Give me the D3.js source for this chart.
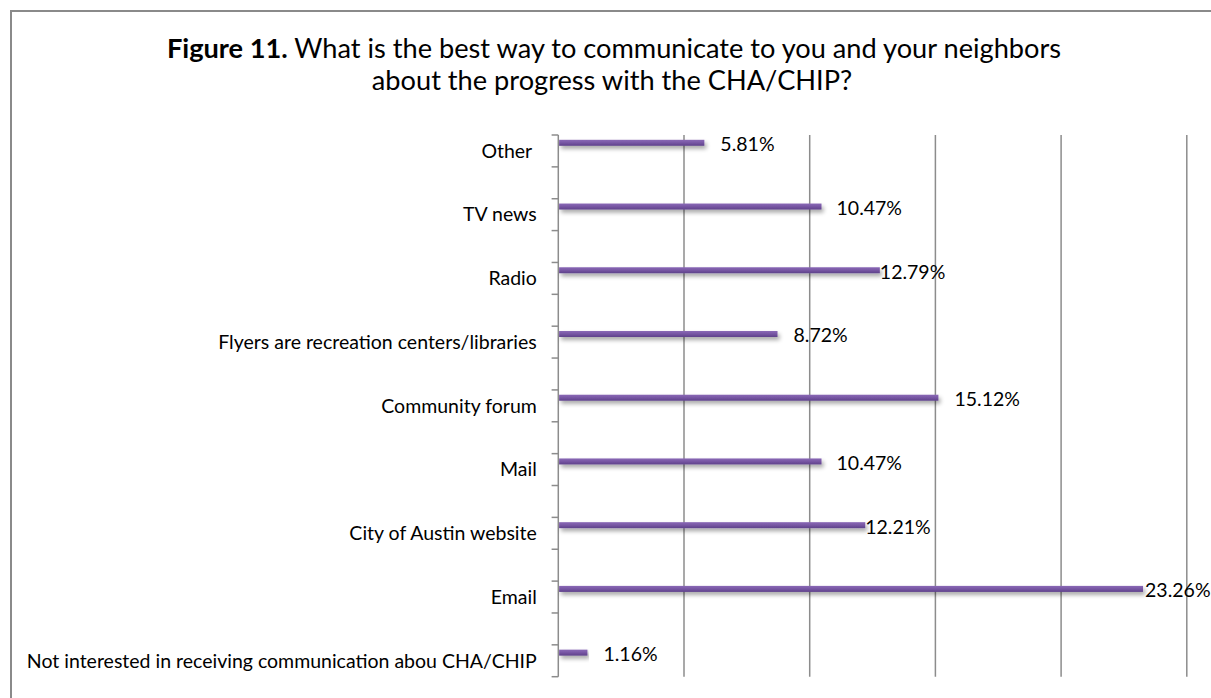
<!DOCTYPE html>
<html>
<head>
<meta charset="utf-8">
<script src="https://cdn.jsdelivr.net/npm/d3@7"></script>
<style>
  html, body { margin: 0; padding: 0; background: #fff; }
  svg { display: block; }
  text { font-family: Lato, "Open Sans", sans-serif; fill: #000; white-space: pre; }
</style>
</head>
<body>
<svg id="chart" width="1211" height="698"></svg>
<script>
// Survey responses, top to bottom
const categories = [
  "Other ",
  "TV news",
  "Radio",
  "Flyers are recreation centers/libraries",
  "Community forum",
  "Mail",
  "City of Austin website",
  "Email",
  "Not interested in receiving communication abou CHA/CHIP"
];
const percentages = [5.81, 10.47, 12.79, 8.72, 15.12, 10.47, 12.21, 23.26, 1.16];
const xTicks = [0, 5, 10, 15, 20, 25];

// Horizontal nudge of each value label past its bar end
const labelGap = [16, 15, 0, 16, 16, 15, 0, 2, 16];

const svg = d3.select("#chart");
const W = 1211, H = 698;

// Outer frame (runs off the right and bottom edges)
svg.append("rect")
  .attr("x", 11).attr("y", 11)
  .attr("width", W + 20).attr("height", H + 20)
  .attr("fill", "none").attr("stroke", "#8a8a8a").attr("stroke-width", 2);

// Title
const titleSize = "27.2px";
const title = svg.append("text")
  .attr("x", 614).attr("y", 58)
  .attr("text-anchor", "middle")
  .style("font-size", titleSize);
title.append("tspan").attr("font-weight", "bold").text("Figure 11.");
title.append("tspan").text(" What is the best way to communicate to you and your neighbors");
svg.append("text")
  .attr("x", 612).attr("y", 90)
  .attr("text-anchor", "middle")
  .style("font-size", titleSize)
  .text("about the progress with the CHA/CHIP?");

// Plot area
const plotL = 558.3, plotR = 1186.8, plotT = 135, plotB = 676.7;

const x = d3.scaleLinear().domain([0, 25]).range([plotL, plotR]);

// Each category is followed by an empty slot, giving 17 slots in all
const slots = d3.range(categories.length * 2 - 1);
const y = d3.scaleBand().domain(slots).range([plotT, plotB]).padding(0);
const slotOf = i => i * 2;

const defs = svg.append("defs");
const grad = defs.append("linearGradient")
  .attr("id", "barFill").attr("x1", 0).attr("y1", 0).attr("x2", 0).attr("y2", 1);
grad.append("stop").attr("offset", "0%").attr("stop-color", "#8a69b6");
grad.append("stop").attr("offset", "50%").attr("stop-color", "#7756a3");
grad.append("stop").attr("offset", "100%").attr("stop-color", "#5e418a");

const shadow = defs.append("filter").attr("id", "barShadow")
  .attr("x", "-5%").attr("y", "-100%").attr("width", "110%").attr("height", "400%");
shadow.append("feGaussianBlur").attr("in", "SourceAlpha").attr("stdDeviation", 2.2).attr("result", "blur");
shadow.append("feOffset").attr("in", "blur").attr("dx", 2).attr("dy", 3).attr("result", "off");
shadow.append("feComponentTransfer").attr("in", "off").attr("result", "soft")
  .append("feFuncA").attr("type", "linear").attr("slope", 0.35);
const merge = shadow.append("feMerge");
merge.append("feMergeNode").attr("in", "soft");
merge.append("feMergeNode").attr("in", "SourceGraphic");

// Vertical gridlines
svg.append("g")
  .selectAll("line")
  .data(xTicks.slice(1))
  .join("line")
  .attr("x1", d => x(d)).attr("x2", d => x(d))
  .attr("y1", plotT).attr("y2", plotB)
  .attr("stroke", "#8c8c8c").attr("stroke-width", 1.5);

// Category axis with tick marks at every slot boundary
const axisG = svg.append("g");
axisG.append("line")
  .attr("x1", plotL).attr("x2", plotL).attr("y1", plotT).attr("y2", plotB)
  .attr("stroke", "#8c8c8c").attr("stroke-width", 1.5);
const boundaries = slots.map(s => y(s)).concat([plotB]);
axisG.selectAll("line.tick")
  .data(boundaries)
  .join("line")
  .attr("class", "tick")
  .attr("x1", plotL - 6.7).attr("x2", plotL)
  .attr("y1", d => d).attr("y2", d => d)
  .attr("stroke", "#8c8c8c").attr("stroke-width", 1.5);

axisG.selectAll("text.cat")
  .data(categories)
  .join("text")
  .attr("class", "cat")
  .attr("x", plotL - 21.5)
  .attr("y", (d, i) => y(slotOf(i)) + y.bandwidth() / 2)
  .attr("dy", "0.35em")
  .attr("text-anchor", "end")
  .style("font-size", "19.5px")
  .text(d => d);

// Bars
const barTop = 4.8, barH = 6.0;
svg.append("g")
  .selectAll("rect")
  .data(percentages)
  .join("rect")
  .attr("x", plotL + 0.8)
  .attr("y", (d, i) => y(slotOf(i)) + barTop)
  .attr("width", d => x(d) - plotL - 0.8)
  .attr("height", barH)
  .attr("fill", "url(#barFill)")
  .attr("filter", "url(#barShadow)");

// Value labels
svg.append("g")
  .selectAll("text")
  .data(percentages)
  .join("text")
  .attr("x", (d, i) => x(d) + labelGap[i])
  .attr("y", (d, i) => y(slotOf(i)) + barTop + barH / 2 + 1.5)
  .attr("dy", "0.35em")
  .style("font-size", "19.5px")
  .text(d => d.toFixed(2) + "%");
</script>
</body>
</html>
